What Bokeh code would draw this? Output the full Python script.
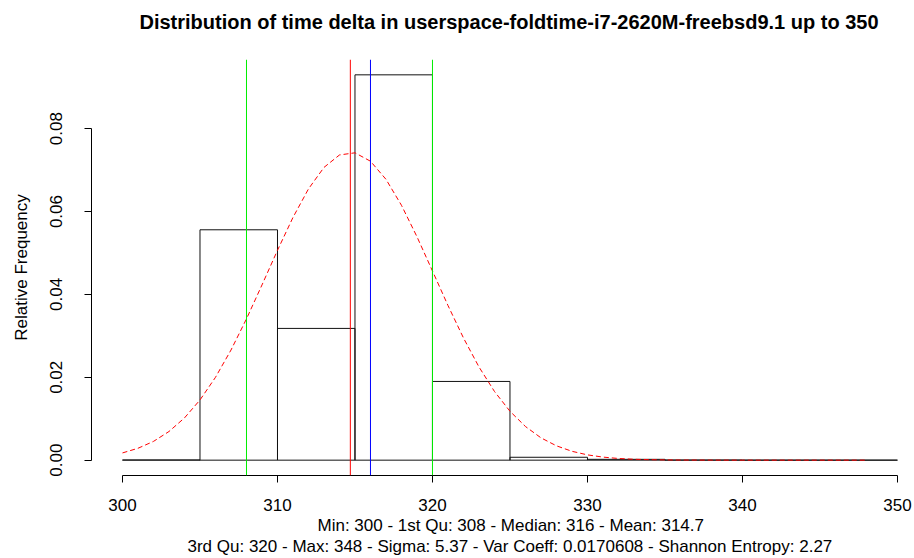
from bokeh.plotting import figure
from bokeh.models import Range1d, Span, Title, FixedTicker, LinearAxis
from bokeh.embed import file_html
from bokeh.resources import INLINE

# ---- data ----
bin_left = [300, 305, 310, 315, 320, 325, 330, 335, 340, 345]
bin_right = [305, 310, 315, 320, 325, 330, 335, 340, 345, 350]
rel_freq = [0.00005, 0.0556, 0.0318, 0.0930, 0.0190, 0.0007, 0.0002, 0.00003, 0.00001, 0.00001]

# normal density curve (red dashed)
curve_x = [300, 301, 302, 303, 304, 305, 306, 307, 308, 309, 310, 311, 312, 313, 314,
           315, 316, 317, 318, 319, 320, 321, 322, 323, 324, 325, 326, 327, 328, 329,
           330, 331, 332, 333, 334, 335, 336, 338, 340, 344, 348]
curve_y = [0.00175, 0.00287, 0.00453, 0.00692, 0.01020, 0.01453, 0.02000, 0.02658,
           0.03411, 0.04229, 0.05065, 0.05859, 0.06547, 0.07066, 0.07366, 0.07418,
           0.07215, 0.06778, 0.06151, 0.05392, 0.04565, 0.03733, 0.02949, 0.02250,
           0.01658, 0.01180, 0.00812, 0.00539, 0.00346, 0.00214, 0.00128, 0.00074,
           0.00041, 0.00022, 0.00012, 0.00006, 0.00003, 0.00001, 0.0, 0.0, 0.0]

stat_lines = [308, 314.7, 316, 320]
stat_colors = ["#00ee00", "#ff0000", "#0000ff", "#00ee00"]

x_ticks = [300, 310, 320, 330, 340, 350]
y_ticks = [0.0, 0.02, 0.04, 0.06, 0.08]
y_tick_labels = ["0.00", "0.02", "0.04", "0.06", "0.08"]

title_text = "Distribution of time delta in userspace-foldtime-i7-2620M-freebsd9.1 up to 350"
sub_line1 = "Min: 300 - 1st Qu: 308 - Median: 316 - Mean: 314.7"
sub_line2 = "3rd Qu: 320 - Max: 348 - Sigma: 5.37 - Var Coeff: 0.0170608 - Shannon Entropy: 2.27"
y_label = "Relative Frequency"

FONT = "Liberation Sans"

p = figure(width=914, height=558, output_backend="svg", toolbar_location=None,
           x_range=Range1d(298, 351.1), y_range=Range1d(-0.0037, 0.0967),
           min_border_left=91, min_border_right=0, min_border_top=59, min_border_bottom=83,
           x_axis_type=None, y_axis_type=None)
p.outline_line_color = None
p.grid.visible = False
p.background_fill_color = "white"
p.border_fill_color = "white"

xaxis = LinearAxis(ticker=FixedTicker(ticks=x_ticks), bounds=(300, 350))
yaxis = LinearAxis(ticker=FixedTicker(ticks=y_ticks), bounds=(0, 0.08))
yaxis.major_label_overrides = {t: l for t, l in zip(y_ticks, y_tick_labels)}
for ax in (xaxis, yaxis):
    ax.axis_line_color = "black"
    ax.major_tick_line_color = "black"
    ax.major_tick_in = 0
    ax.major_tick_out = 7
    ax.minor_tick_line_color = None
    ax.major_label_text_font = FONT
    ax.major_label_text_font_size = "17px"
    ax.major_label_text_color = "black"
xaxis.major_label_standoff = 16
yaxis.major_label_standoff = 22
yaxis.major_label_orientation = "vertical"
yaxis.axis_label = y_label
yaxis.axis_label_text_font = FONT
yaxis.axis_label_text_font_size = "17px"
yaxis.axis_label_text_font_style = "normal"
yaxis.axis_label_text_color = "black"
yaxis.axis_label_standoff = 17
p.add_layout(xaxis, "below")
p.add_layout(yaxis, "left")

# histogram bars
p.quad(left=bin_left, right=bin_right, top=rel_freq, bottom=0,
       fill_color=None, line_color="#111111", line_width=1)

# normal curve
p.line(curve_x, curve_y, line_color="#ff0000", line_width=1, line_dash="5 3")

# statistic lines
for loc, col in zip(stat_lines, stat_colors):
    p.add_layout(Span(location=loc, dimension="height", line_color=col, line_width=1))

# title: an empty second line lifts the text away from the plot area
p.title = Title(text=title_text + "\n ", align="left", offset=48, text_font=FONT,
                text_font_size="20px", text_font_style="bold", text_color="black",
                text_line_height=1.2, standoff=0)
p.add_layout(Title(text=sub_line1, align="left", offset=226, text_font=FONT,
                   text_font_size="17px", text_font_style="normal", text_color="black",
                   standoff=0), "below")
p.add_layout(Title(text=sub_line2, align="left", offset=96, text_font=FONT,
                   text_font_size="17px", text_font_style="normal", text_color="black",
                   standoff=0), "below")

open("out.html", "w").write(file_html(p, INLINE))
